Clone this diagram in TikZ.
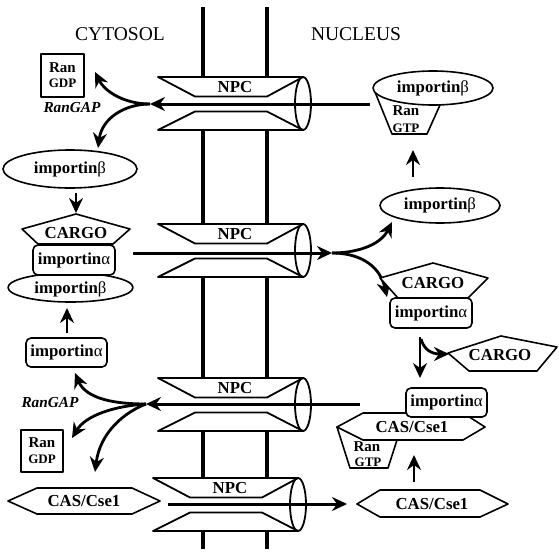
\documentclass[tikz,border=0pt]{standalone}
\usepackage{fontspec}
\setmainfont{Liberation Serif}
\usetikzlibrary{arrows.meta,shapes.geometric}
\newcommand\mybeta{{\mdseries β}}
\newcommand\myalpha{{\mdseries α}}
\tikzset{
 memb/.style={line width=3.3pt},
 npcline/.style={line width=1.8pt, line join=round},
 hline/.style={line width=3pt},
 arrtip/.style={-{Stealth[length=15pt,width=14pt,inset=5pt]}},
 arr/.style={line width=2.8pt, arrtip},
 shp/.style={draw, line width=1.6pt, fill=white, line join=round},
 lbl/.style={font=\fontsize{16.8}{18}\selectfont\bfseries, inner sep=0pt},
 ell/.style={shp, ellipse, inner sep=0pt, lbl},
 rbox/.style={shp, rectangle, rounded corners=5pt, inner sep=0pt, lbl},
 sqbox/.style={shp, rectangle, inner sep=0pt},
 ran/.style={font=\fontsize{15}{15}\selectfont\bfseries, inner sep=0pt},
 gxp/.style={font=\fontsize{13}{13}\selectfont\bfseries, inner sep=0pt},
 ttl/.style={font=\fontsize{19.5}{20}\selectfont, inner sep=0pt},
 gap/.style={font=\fontsize{15.3}{16}\selectfont\bfseries\itshape, inner sep=0pt},
}
\newcommand\drawnpc[3]{%
 \begin{scope}[shift={(#2,#3)}]
   \draw[npcline, fill=white] (158,0) -- (303,0) -- (267,19.5) -- (195,19.5) -- cycle;
   \draw[npcline, fill=white] (158,53) -- (303,53) -- (267,34.5) -- (195,34.5) -- cycle;
   \draw[npcline] (303,26.5) ellipse [x radius=8pt, y radius=26.5pt];
   \node[lbl] (#1) at (235,10.5) {NPC};
 \end{scope}}
\begin{document}
\begin{tikzpicture}[x=1pt,y=-1pt]
\useasboundingbox (0,0) rectangle (559,554);
% membrane
\foreach \a/\b in {7/77,130/224,278/378,431/478,532/549}{
  \draw[memb] (203,\a) -- (203,\b);
  \draw[memb] (267,\a) -- (267,\b);
}
% NPCs
\drawnpc{npc1}{0}{77}
\drawnpc{npc2}{0}{224}
\drawnpc{npc3}{0}{378}
\drawnpc{npc4}{-5}{478}
% titles
\node[ttl] (cyt) at (120,34) {CYTOSOL};
\node[ttl] (nuc) at (356,34) {NUCLEUS};

% ---------- top right: importin beta / Ran GTP
\draw[shp] (440,105) -- (427,134) -- (392,134) -- (375,92) -- cycle;
\node[ell, minimum width=120pt, minimum height=34pt] (ib1) at (433,88) {importin\mybeta};
\node[ran] (ran1) at (406,111) {Ran};
\node[gxp] (gtp1) at (406,128) {GTP};
\node[ell, minimum width=120pt, minimum height=35pt] (ib2) at (440,205.5) {importin\mybeta};
\coordinate (u1s) at (413,177);
\coordinate (u1e) at (413,150);
\draw[arr] (u1s) -- (u1e);

% ---------- top left
\node[sqbox, minimum width=43pt, minimum height=43pt] (gdp1) at (62.5,75.5) {};
\node[ran] (ran2) at (62.5,68) {Ran};
\node[gxp] (gdpt1) at (62.5,83.5) {GDP};
\node[gap] (gap1) at (72,108) {RanGAP};
\node[ell, minimum width=134pt, minimum height=38pt] (ib3) at (70,169) {importin\mybeta};

% NPC1 export line
\coordinate (e1) at (370,104);
\coordinate (b1) at (150,104);
\draw[hline, arrtip] (e1) -- (b1);
\coordinate (t1a) at (95,72);
\coordinate (t1b) at (98,148);
\draw[arr] (b1) .. controls (125,104) and (105,92) .. (t1a);
\draw[arr] (b1) .. controls (125,104) and (102,118) .. (t1b);

\coordinate (d1s) at (76,193);
\coordinate (d1e) at (76,213);
\draw[arr] (d1s) -- (d1e);

% ---------- left complex
\draw[shp] (76,214) -- (130,229) -- (113,244) -- (38,244) -- (22,229) -- cycle;
\node[lbl] (cargo1) at (76,233) {CARGO};
\node[ell, minimum width=125pt, minimum height=29pt] (ib4) at (70.5,287.5) {};
\node[lbl] (ib4t) at (70.5,289) {importin\mybeta};
\node[rbox, minimum width=82pt, minimum height=30pt] (ia1) at (74,260) {importin\myalpha};

\coordinate (u2s) at (67,333);
\coordinate (u2e) at (67,308);
\draw[arr] (u2s) -- (u2e);
\node[rbox, minimum width=81pt, minimum height=29pt] (ia2) at (66.5,352.5) {importin\myalpha};

% NPC2 import line
\coordinate (s2) at (133,253);
\coordinate (b2) at (332,253);
\draw[hline, arrtip] (s2) -- (b2);
\coordinate (t2a) at (392,222);
\coordinate (t2b) at (387,297);
\draw[arr] (b2) .. controls (355,253) and (380,246) .. (t2a);
\draw[arr] (b2) .. controls (355,253) and (379,262) .. (t2b);

% ---------- right complex
\draw[shp] (433,263) -- (488,278) -- (468,298) -- (398,298) -- (380,278) -- cycle;
\node[lbl] (cargo2) at (433,283) {CARGO};
\node[rbox, minimum width=82pt, minimum height=30pt] (ia3) at (431,313) {importin\myalpha};

\coordinate (d2s) at (420,337);
\coordinate (d2e) at (420,378);
\draw[arr] (d2s) -- (d2e);
\coordinate (c3s) at (421,339);
\coordinate (c3e) at (449,354);
\draw[arr] (c3s) .. controls (424,350) and (432,354) .. (c3e);
\draw[shp] (448,353) -- (501,336) -- (557,347) -- (537,371) -- (469,371) -- cycle;
\node[lbl] (cargo3) at (500,355) {CARGO};

% ---------- right lower complex
\draw[shp] (397,440) -- (388,468) -- (350,468) -- (337,427) -- cycle;
\draw[shp] (337,427) -- (363,413) -- (463,413) -- (485,427) -- (463,440) -- (363,440) -- cycle;
\node[lbl] (cas2) at (412,427) {CAS/Cse1};
\node[ran] (ran3) at (367,447) {Ran};
\node[gxp] (gtp3) at (368,462) {GTP};
\node[rbox, minimum width=81pt, minimum height=29pt] (ia4) at (446.5,402.5) {importin\myalpha};

\coordinate (u3s) at (414,482);
\coordinate (u3e) at (414,455);
\draw[arr] (u3s) -- (u3e);

% NPC3 export line
\coordinate (e3) at (360,404);
\coordinate (b3) at (146,404);
\draw[hline, arrtip] (e3) -- (b3);
\coordinate (t3a) at (75,373);
\coordinate (t3b) at (72,438);
\coordinate (t3c) at (95,472);
\draw[arr] (b3) .. controls (115,404) and (86,399) .. (t3a);
\draw[arr] (b3) .. controls (115,406) and (86,415) .. (t3b);
\draw[arr] (b3) .. controls (125,412) and (100,432) .. (t3c);
\node[gap] (gap2) at (50,403) {RanGAP};
\node[sqbox, minimum width=42pt, minimum height=42pt] (gdp2) at (42,451) {};
\node[ran] (ran4) at (42,443) {Ran};
\node[gxp] (gdpt2) at (42,459.5) {GDP};

% ---------- bottom
\draw[shp] (8,501) -- (37,488) -- (132,488) -- (160,501) -- (132,514) -- (37,514) -- cycle;
\node[lbl] (cas1) at (84,501) {CAS/Cse1};
\draw[shp] (357,504) -- (380,490) -- (480,490) -- (508,504) -- (480,517) -- (380,517) -- cycle;
\node[lbl] (cas3) at (432,504) {CAS/Cse1};

% NPC4 import line
\coordinate (s4) at (168,504);
\coordinate (t4) at (347,504);
\draw[hline, arrtip] (s4) -- (t4);
\end{tikzpicture}
\end{document}
